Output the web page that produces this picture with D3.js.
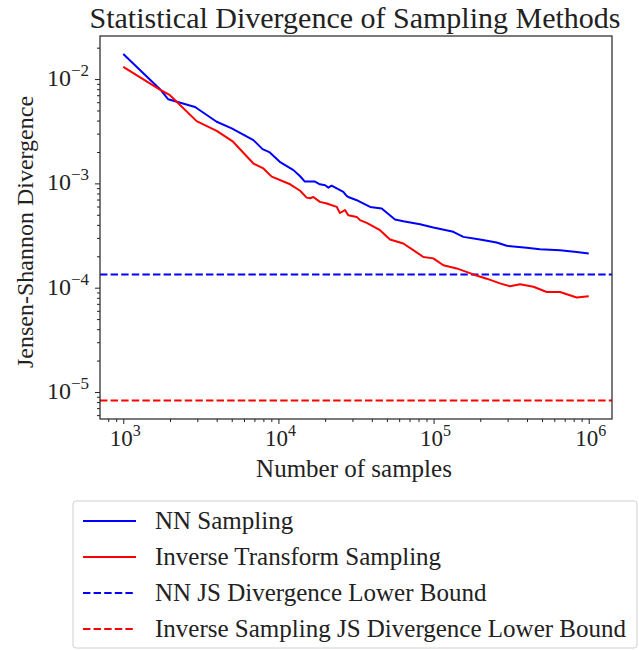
<!DOCTYPE html>
<html>
<head>
<meta charset="utf-8">
<script src="https://cdn.jsdelivr.net/npm/d3@7"></script>
<style>
  body { margin: 0; background: #fff; }
  svg text { font-family: "Liberation Serif", "DejaVu Serif", serif; fill: #222; }
</style>
</head>
<body>
<div id="chart"></div>
<script>
// Values
const nnSamples = [1000, 1725, 1950, 2900, 4000, 5000, 6900, 7900, 8800, 10200, 12500, 13800, 14800, 16800,
    17200, 18500, 20000, 21000, 22000, 26200, 27500, 28200, 32000, 33600, 39000, 46300, 56400, 63800,
    81800, 99600, 134000, 155500, 199000, 255000, 296000, 398000, 485000, 653000, 836000, 1000000];
const nnDivergence = [0.0174, 0.0080, 0.0064, 0.0054, 0.0039, 0.00337, 0.0026, 0.00213, 0.00198, 0.00161,
    0.00134, 0.00117, 0.00104, 0.00104, 0.00104, 0.00098, 0.00096, 0.00091, 0.00095, 0.00083, 0.00076,
    0.00074, 0.00069, 0.000665, 0.000595, 0.000575, 0.000451, 0.000434, 0.000406, 0.000378, 0.000343,
    0.000307, 0.000290, 0.000271, 0.000252, 0.000241, 0.000234, 0.000229, 0.000220, 0.000213];

const itsSamples = [1000, 1700, 2000, 2970, 4000, 5100, 6900, 8000, 9050, 11900, 13800, 15200, 16000, 16800,
    18500, 20500, 23750, 24900, 26850, 28200, 31960, 33560, 37080, 45170, 52400, 63800, 74000, 85900,
    99600, 115600, 141000, 180400, 220000, 268000, 311000, 361000, 440000, 536000, 653000, 836000, 1000000];
const itsDivergence = [0.0131, 0.0080, 0.0070, 0.00395, 0.00319, 0.00251, 0.00155, 0.00139, 0.00116,
    0.00098, 0.00085, 0.00073, 0.00072, 0.00074, 0.000665, 0.000642, 0.000595, 0.00052, 0.000554, 0.000495,
    0.000477, 0.000444, 0.000418, 0.000356, 0.000290, 0.000265, 0.000229, 0.000197, 0.000191, 0.000164,
    0.000153, 0.000134, 0.000122, 0.000110, 0.000103, 0.000108, 0.000102, 0.0000910, 0.0000910,
    0.0000804, 0.0000828];

const nnBound = 1.34e-4;
const invBound = 8.3e-6;

const xTickExps = [3, 4, 5, 6];
const yTickExps = [-2, -3, -4, -5];

const legendLabels = [
    'NN Sampling',
    'Inverse Transform Sampling',
    'NN JS Divergence Lower Bound',
    'Inverse Sampling JS Divergence Lower Bound'
];

const width = 639, height = 651;
const margin = { left: 100, top: 36, right: 27, bottom: 232 };
const plotW = width - margin.left - margin.right;
const plotH = height - margin.top - margin.bottom;

const svg = d3.select('#chart').append('svg')
    .attr('width', width)
    .attr('height', height);

const x = d3.scaleLog()
    .domain([Math.pow(10, 2.85), Math.pow(10, 6.15)])
    .range([0, plotW]);
const y = d3.scaleLog()
    .domain([Math.pow(10, -5.259), Math.pow(10, -1.587)])
    .range([plotH, 0]);

const g = svg.append('g').attr('transform', `translate(${margin.left},${margin.top})`);

// clip for the data lines
svg.append('defs').append('clipPath').attr('id', 'plot-clip')
    .append('rect').attr('width', plotW).attr('height', plotH);

// minor + major ticks
const xMinor = x.ticks().filter(v => Math.abs(Math.log10(v) % 1) > 1e-9);
const xMajor = xTickExps.map(e => Math.pow(10, e));
const yMinor = y.ticks().filter(v => Math.abs(Math.log10(v) % 1) > 1e-9);
const yMajor = yTickExps.map(e => Math.pow(10, e));

function styleAxis(sel) {
    sel.select('.domain').remove();
    sel.selectAll('line').attr('stroke', '#222').attr('stroke-width', 1);
    sel.selectAll('text').remove();
}

g.append('g').attr('transform', `translate(0,${plotH})`)
    .call(d3.axisBottom(x).tickValues(xMinor).tickSize(3).tickFormat(''))
    .call(styleAxis);
g.append('g').attr('transform', `translate(0,${plotH})`)
    .call(d3.axisBottom(x).tickValues(xMajor).tickSize(5).tickFormat(''))
    .call(styleAxis);
g.append('g')
    .call(d3.axisLeft(y).tickValues(yMinor).tickSize(3).tickFormat(''))
    .call(styleAxis);
g.append('g')
    .call(d3.axisLeft(y).tickValues(yMajor).tickSize(5).tickFormat(''))
    .call(styleAxis);

// tick labels with superscript exponents
xTickExps.forEach(e => {
    const t = g.append('text')
        .attr('x', x(Math.pow(10, e)) + 2)
        .attr('y', plotH + 27)
        .attr('text-anchor', 'middle')
        .style('font-size', '23px');
    t.append('tspan').text('10');
    t.append('tspan').attr('dy', -10).style('font-size', '16px').text(e);
});
yTickExps.forEach(e => {
    const t = g.append('text')
        .attr('x', -11)
        .attr('y', y(Math.pow(10, e)) + 7)
        .attr('text-anchor', 'end')
        .style('font-size', '24px');
    t.append('tspan').text('10');
    t.append('tspan').attr('dy', -10).style('font-size', '17px').text('\u2212' + Math.abs(e));
});

// bounds
const lines = g.append('g').attr('clip-path', 'url(#plot-clip)');
lines.append('line')
    .attr('x1', 0).attr('x2', plotW)
    .attr('y1', y(nnBound)).attr('y2', y(nnBound))
    .attr('stroke', '#0000ff').attr('stroke-width', 2).attr('stroke-dasharray', '7.4,3.2');
lines.append('line')
    .attr('x1', 0).attr('x2', plotW)
    .attr('y1', y(invBound)).attr('y2', y(invBound))
    .attr('stroke', '#ff0000').attr('stroke-width', 2).attr('stroke-dasharray', '7.4,3.2');

const line = d3.line().x(d => x(d[0])).y(d => y(d[1]));
lines.append('path')
    .datum(d3.zip(nnSamples, nnDivergence))
    .attr('d', line)
    .attr('fill', 'none').attr('stroke', '#0000ff').attr('stroke-width', 2).attr('stroke-linejoin', 'round');
lines.append('path')
    .datum(d3.zip(itsSamples, itsDivergence))
    .attr('d', line)
    .attr('fill', 'none').attr('stroke', '#ff0000').attr('stroke-width', 2).attr('stroke-linejoin', 'round');

// frame
g.append('rect')
    .attr('width', plotW).attr('height', plotH)
    .attr('fill', 'none').attr('stroke', '#222').attr('stroke-width', 1.2);

// titles
svg.append('text')
    .attr('x', 355).attr('y', 28)
    .attr('text-anchor', 'middle')
    .style('font-size', '30px')
    .text('Statistical Divergence of Sampling Methods');
svg.append('text')
    .attr('x', 354).attr('y', 477)
    .attr('text-anchor', 'middle')
    .style('font-size', '25px')
    .text('Number of samples');
svg.append('text')
    .attr('transform', 'translate(33,232) rotate(-90)')
    .attr('text-anchor', 'middle')
    .style('font-size', '24px')
    .text('Jensen-Shannon Divergence');

// legend
const legend = svg.append('g').attr('transform', 'translate(73,501)');
legend.append('rect')
    .attr('width', 564).attr('height', 147).attr('rx', 3)
    .attr('fill', '#fff').attr('stroke', '#d0d0d0').attr('stroke-width', 1);
const legendStyles = [
    { color: '#0000ff', dash: null },
    { color: '#ff0000', dash: null },
    { color: '#0000ff', dash: '7.4,3.2' },
    { color: '#ff0000', dash: '7.4,3.2' }
];
legendLabels.forEach((label, i) => {
    const yy = 20 + i * 36;
    legend.append('line')
        .attr('x1', 10).attr('x2', 63).attr('y1', yy).attr('y2', yy)
        .attr('stroke', legendStyles[i].color).attr('stroke-width', 2)
        .attr('stroke-dasharray', legendStyles[i].dash);
    legend.append('text')
        .attr('x', 82).attr('y', yy + 8)
        .style('font-size', '25px')
        .text(label);
});
</script>
</body>
</html>
